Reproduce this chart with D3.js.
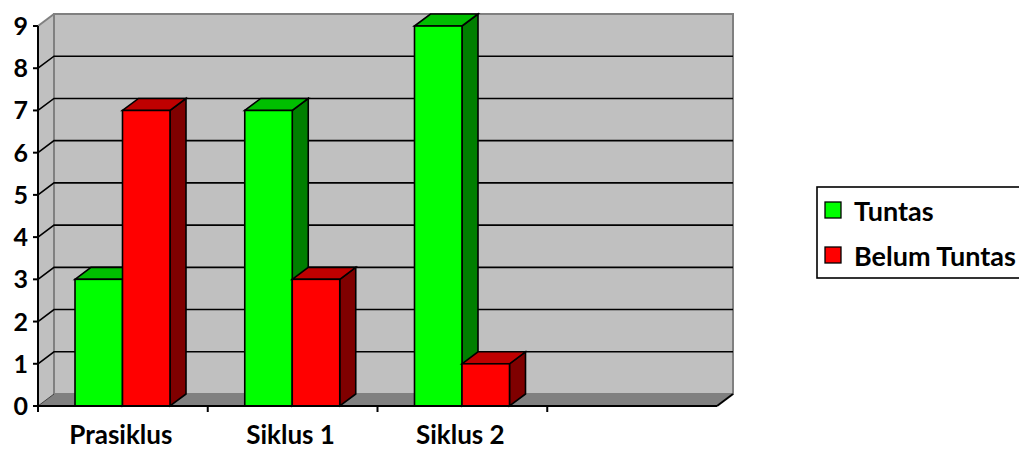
<!DOCTYPE html>
<html>
<head>
<meta charset="utf-8">
<script src="https://cdn.jsdelivr.net/npm/d3@7.9.0/dist/d3.min.js"></script>
<style>
  body { margin: 0; background: #fff; }
  svg text { font-family: Lato, "Open Sans", sans-serif; font-weight: bold; fill: #000; }
</style>
</head>
<body>
<svg id="chart" width="1019" height="450"></svg>
<script>
const categories = ["Prasiklus", "Siklus 1", "Siklus 2", ""];
const series = ["Tuntas", "Belum Tuntas"];
const tuntas = [3, 7, 9, null];
const belumTuntas = [7, 3, 1, null];
const yTicks = [0, 1, 2, 3, 4, 5, 6, 7, 8, 9];

const colors = {
  "Tuntas": { front: "#00ff00", top: "#00bf00", side: "#007f00" },
  "Belum Tuntas": { front: "#ff0000", top: "#bf0000", side: "#7f0000" }
};

const svg = d3.select("#chart");
const depth = { dx: 16, dy: -12 };

const xScale = d3.scaleBand().domain(categories).range([38, 717]);
const xInner = d3.scaleBand().domain(series).range([37, 132]);
const yScale = d3.scaleLinear().domain([0, 9]).range([406, 26]);

const x0 = xScale.range()[0], x1 = xScale.range()[1];
const y0 = yScale(0), yTop = yScale(9);

// left side wall
svg.append("polygon")
  .attr("points", [[x0, yTop], [x0 + depth.dx, yTop + depth.dy], [x0 + depth.dx, y0 + depth.dy], [x0, y0]].join(" "))
  .attr("fill", "#c0c0c0");

// back wall
svg.append("rect")
  .attr("x", x0 + depth.dx)
  .attr("y", yTop + depth.dy)
  .attr("width", x1 - x0)
  .attr("height", y0 - yTop)
  .attr("fill", "#c0c0c0")
  .attr("stroke", "#808080")
  .attr("stroke-width", 2);

svg.append("line")
  .attr("x1", x0).attr("y1", yTop)
  .attr("x2", x0 + depth.dx).attr("y2", yTop + depth.dy)
  .attr("stroke", "#808080").attr("stroke-width", 2);

// floor
svg.append("polygon")
  .attr("points", [[x0, y0], [x1, y0], [x1 + depth.dx, y0 + depth.dy], [x0 + depth.dx, y0 + depth.dy]].join(" "))
  .attr("fill", "#808080");

// gridlines
const grid = svg.append("g").attr("stroke", "#000").attr("stroke-width", 1.6).attr("fill", "none");
yTicks.filter(v => v > 0 && v < 9).forEach(v => {
  const y = yScale(v);
  grid.append("polyline")
    .attr("points", [[x0, y], [x0 + depth.dx, y + depth.dy], [x1 + depth.dx, y + depth.dy]].join(" "));
});
grid.append("line")
  .attr("x1", x0).attr("y1", y0)
  .attr("x2", x0 + depth.dx).attr("y2", y0 + depth.dy)
  .attr("stroke", "#404040").attr("stroke-width", 1);

// floor right edge
svg.append("line")
  .attr("x1", x1).attr("y1", y0)
  .attr("x2", x1 + depth.dx).attr("y2", y0 + depth.dy)
  .attr("stroke", "#000").attr("stroke-width", 2);

// bars
const rows = categories.map((c, i) => ({ cat: c, values: [tuntas[i], belumTuntas[i]] }));
const bars = svg.append("g").attr("stroke", "#000").attr("stroke-width", 1.6).attr("stroke-linejoin", "miter");

rows.forEach(r => {
  series.forEach((s, j) => {
    const v = r.values[j];
    if (v == null) return;
    const bx = xScale(r.cat) + xInner(s);
    const bw = xInner.bandwidth();
    const by = yScale(v);
    const c = colors[s];
    bars.append("polygon")
      .attr("points", [[bx + bw, by], [bx + bw + depth.dx, by + depth.dy], [bx + bw + depth.dx, y0 + depth.dy], [bx + bw, y0]].join(" "))
      .attr("fill", c.side);
    bars.append("polygon")
      .attr("points", [[bx, by], [bx + depth.dx, by + depth.dy], [bx + bw + depth.dx, by + depth.dy], [bx + bw, by]].join(" "))
      .attr("fill", c.top);
    bars.append("rect")
      .attr("x", bx).attr("y", by)
      .attr("width", bw).attr("height", y0 - by)
      .attr("fill", c.front);
  });
});

// y axis
const yAxis = svg.append("g");
yAxis.append("line")
  .attr("x1", x0).attr("y1", yTop).attr("x2", x0).attr("y2", y0)
  .attr("stroke", "#000").attr("stroke-width", 2);
yTicks.forEach(v => {
  yAxis.append("line")
    .attr("x1", x0 - 5).attr("x2", x0)
    .attr("y1", yScale(v)).attr("y2", yScale(v))
    .attr("stroke", "#000").attr("stroke-width", 2);
  yAxis.append("text")
    .attr("x", 28)
    .attr("y", yScale(v))
    .attr("dy", "0.36em")
    .attr("text-anchor", "end")
    .attr("font-size", 25)
    .text(v);
});

// x axis
const xAxis = svg.append("g");
xAxis.append("line")
  .attr("x1", x0).attr("y1", y0).attr("x2", x1).attr("y2", y0)
  .attr("stroke", "#000").attr("stroke-width", 2);
categories.forEach(c => {
  xAxis.append("line")
    .attr("x1", xScale(c)).attr("x2", xScale(c))
    .attr("y1", y0).attr("y2", y0 + 6)
    .attr("stroke", "#000").attr("stroke-width", 2);
  xAxis.append("text")
    .attr("x", xScale(c) + xScale.bandwidth() / 2 - 2)
    .attr("y", 444)
    .attr("text-anchor", "middle")
    .attr("font-size", 26)
    .text(c);
});

// legend
const legend = svg.append("g");
legend.append("rect")
  .attr("x", 817).attr("y", 187)
  .attr("width", 220).attr("height", 91)
  .attr("fill", "#fff")
  .attr("stroke", "#000").attr("stroke-width", 1.6);
series.forEach((s, i) => {
  const ly = 202 + i * 45;
  legend.append("rect")
    .attr("x", 825).attr("y", ly)
    .attr("width", 16).attr("height", 16)
    .attr("fill", colors[s].front)
    .attr("stroke", "#000").attr("stroke-width", 1.3);
  legend.append("text")
    .attr("x", 854).attr("y", ly + 19)
    .attr("font-size", 27)
    .text(s);
});
</script>
</body>
</html>
